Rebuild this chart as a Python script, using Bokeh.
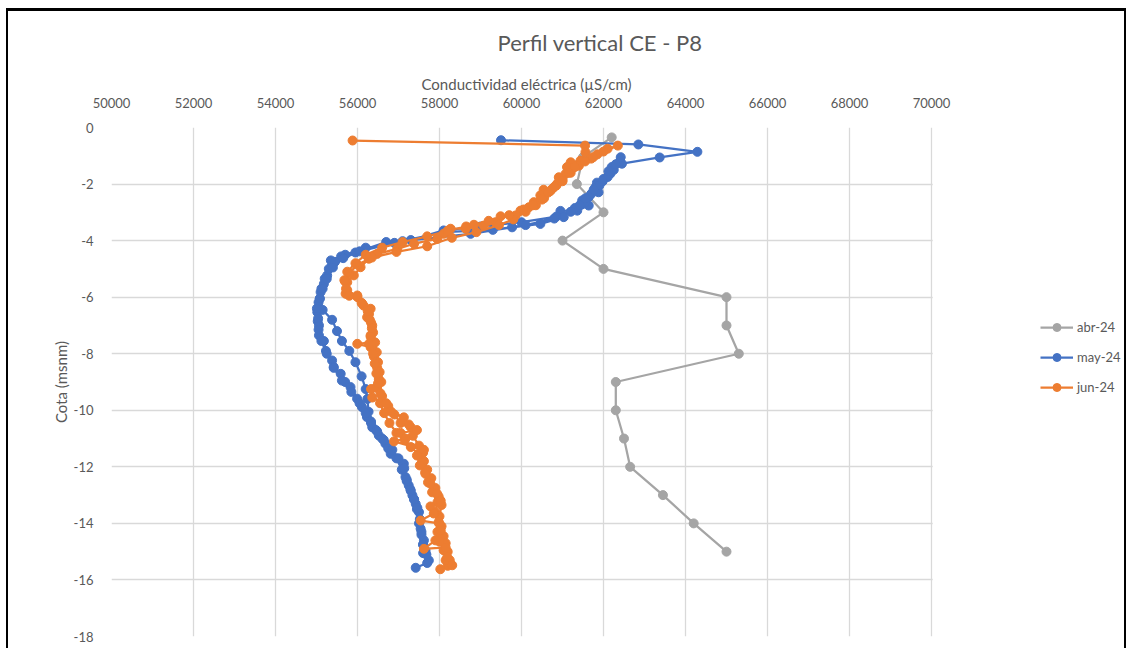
from bokeh.plotting import figure
from bokeh.models import Range1d, Legend, LegendItem, FixedTicker, BoxAnnotation, Title
from bokeh.embed import file_html
from bokeh.resources import INLINE

# ---------------- data ----------------
title_text = "Perfil vertical CE - P8"
x_title = "Conductividad eléctrica (µS/cm)"
y_title = "Cota (msnm)"
series_names = ["abr-24", "may-24", "jun-24"]
x_ticks = [50000, 52000, 54000, 56000, 58000, 60000, 62000, 64000, 66000, 68000, 70000]
y_ticks = [0, -2, -4, -6, -8, -10, -12, -14, -16, -18]

abr_ce = [62200, 61500, 61350, 62000, 61000, 62000, 65000, 65000, 65300,
          62300, 62300, 62500, 62650, 63450, 64200, 65000]
abr_cota = [-0.35, -1.05, -2.0, -3.0, -4.0, -5.0, -6.0, -7.0, -8.0,
            -9.0, -10.0, -11.0, -12.0, -13.0, -14.0, -15.0]

may_ce = [
    59500, 62850, 64290, 63370, 62450, 62200, 62170, 62000, 61840, 61800,
    61880, 61640, 61480, 61640, 61360, 60950, 61030, 60460, 59770, 58760,
    57100, 56700, 55950, 55600, 55350, 55380, 55260, 55180, 55100, 55050,
    55020, 55030, 55060, 55060, 55180, 55230, 55380, 55420, 55590, 55700,
    55830, 55990, 56110, 56230, 56360, 56520, 56680, 56810, 57130, 57170,
    57250, 57340, 57420, 57500, 57540, 57620, 57660, 57740,
    57600, 57600, 57560, 57500, 57450, 57380, 57300, 57200, 57080, 56950,
    56750, 56600, 56450, 56330, 56270, 56240, 56200, 56100, 55950, 55800,
    55620, 55500, 55380, 55150, 55080, 55120, 55200, 55300, 55450, 55700,
    56200, 57300, 58100, 59000, 60000, 60850, 61300, 61550, 61700, 61900,
    62100, 62250, 62400, 62420,
    62300, 62120, 61980, 61760, 61560, 61420, 61200, 60800, 60100, 59300,
    58100, 56900, 56050, 55650, 55400, 55250, 55150, 55080, 55010, 55040,
    55050, 55120, 55250, 55420, 55620, 55850, 56050, 56200, 56330, 56480,
    56640, 56850, 57000, 57140, 57200, 57290, 57380, 57460, 57520, 57560,
    57600, 57680, 57700, 57420]
may_cota = [
    -0.45, -0.60, -0.86, -1.06, -1.28, -1.40, -1.63, -1.82, -1.95, -2.12,
    -2.29, -2.46, -2.58, -2.76, -2.94, -2.95, -3.17, -3.41, -3.53, -3.76,
    -4.02, -4.05, -4.42, -4.56, -4.70, -4.88, -5.23, -5.53, -5.82, -6.18,
    -6.53, -6.85, -7.00, -7.35, -7.55, -7.90, -8.24, -8.47, -8.71, -9.00,
    -9.18, -9.59, -9.89, -10.24, -10.60, -10.89, -11.18, -11.54, -11.89, -12.36,
    -12.66, -13.01, -13.31, -13.60, -14.19, -14.60, -14.96, -15.31,
    -15.05, -14.75, -14.40, -14.00, -13.50, -13.15, -12.85, -12.50, -12.10, -11.70,
    -11.35, -11.00, -10.70, -10.40, -10.05, -9.60, -9.25, -8.80, -8.30, -7.90,
    -7.55, -7.20, -6.80, -6.45, -6.05, -5.70, -5.35, -5.00, -4.75, -4.50,
    -4.25, -3.98, -3.64, -3.50, -3.35, -3.15, -2.85, -2.65, -2.35, -2.05,
    -1.75, -1.50, -1.20, -1.05,
    -1.30, -1.55, -1.90, -2.20, -2.50, -2.75, -2.98, -3.22, -3.45, -3.62,
    -3.70, -4.08, -4.38, -4.62, -4.95, -5.35, -5.70, -6.05, -6.40, -6.75,
    -7.15, -7.55, -8.00, -8.50, -8.95, -9.35, -9.75, -10.10, -10.45, -10.75,
    -11.05, -11.40, -11.70, -12.05, -12.45, -12.80, -13.15, -13.45, -13.85, -14.30,
    -14.75, -15.10, -15.40, -15.57]

jun_ce = [
    55880, 61550, 61560, 61440, 61200, 61110, 61075, 60910, 60870, 60750,
    60540, 60460, 60300, 60180, 59975, 59855, 59490, 59365, 59080, 58840,
    58640, 58270, 58100, 57945, 57380, 56970, 56480, 56275, 56075, 55910,
    55750, 55710, 55995, 56115, 56320, 56235, 56360, 56320, 56400, 55995,
    56320, 56400, 56480, 56520, 56450, 56600, 56750, 56900, 57050, 57300,
    57350, 57500, 57600, 57620, 57700, 57800, 57900, 57980, 58050, 58000,
    58050, 58100, 58150, 58200, 58250, 58200,
    58150, 58100, 58000, 57950, 57980, 57900, 57950, 57820, 57720, 57650,
    57580, 57500, 57300, 57150, 56950, 56780, 56650, 56550, 56560, 56580,
    56540, 56500, 56470, 56430, 56380, 56330, 56280, 56150, 56000, 55750,
    55700, 55800, 56000, 56350, 56950, 57700, 58300, 58900, 59450, 59800,
    60100, 60350, 60550, 60700, 60850, 61000, 61200, 61400, 61700, 61850,
    62100, 62350,
    62000, 61750, 61550, 61300, 61150, 61000, 60800, 60650, 60500, 60280,
    60050, 59700, 59200, 58650, 58200, 57700, 57100, 56600, 56200, 55950,
    55750, 55680, 55720, 55800, 56100, 56250, 56300, 56350, 56320, 56280,
    56380, 56420, 56460, 56500, 56330, 56360, 56700, 56820, 57130, 57250,
    57450, 57050, 57170, 56890, 57620, 57450, 57520, 57660, 57780, 57940,
    58030, 57780, 57860, 57540, 57990, 58030, 57900, 57620, 58150, 58190,
    58310, 58020]
jun_cota = [
    -0.46, -0.64, -0.87, -1.17, -1.23, -1.40, -1.64, -1.76, -1.99, -2.17,
    -2.20, -2.40, -2.64, -2.82, -2.94, -3.11, -3.14, -3.35, -3.47, -3.44,
    -3.58, -3.58, -3.76, -3.94, -4.11, -4.29, -4.47, -4.64, -4.94, -5.23,
    -5.47, -5.88, -5.94, -6.23, -6.41, -6.71, -7.00, -7.35, -7.59, -7.65,
    -7.77, -8.10, -8.50, -8.90, -9.20, -9.50, -9.85, -10.15, -10.45, -10.60,
    -10.90, -11.25, -11.50, -11.80, -12.10, -12.40, -12.75, -13.05, -13.35, -13.75,
    -14.10, -14.45, -14.70, -15.00, -15.30, -15.50,
    -15.30, -14.95, -14.65, -14.30, -13.95, -13.60, -13.25, -12.90, -12.55, -12.20,
    -11.85, -11.55, -11.30, -11.05, -10.80, -10.45, -10.10, -9.75, -9.40, -9.00,
    -8.65, -8.30, -7.95, -7.60, -7.25, -6.90, -6.60, -6.30, -6.00, -5.75,
    -5.45, -5.15, -4.85, -4.60, -4.40, -4.20, -3.90, -3.70, -3.45, -3.25,
    -2.98, -2.75, -2.50, -2.25, -2.05, -1.85, -1.60, -1.35, -1.10, -0.95,
    -0.75, -0.64,
    -0.85, -1.05, -1.20, -1.40, -1.60, -1.90, -2.10, -2.30, -2.55, -2.75,
    -2.90, -3.10, -3.30, -3.50, -3.65, -3.85, -4.05, -4.25, -4.50, -4.80,
    -5.10, -5.40, -5.70, -5.95, -6.20, -6.50, -6.80, -7.10, -7.40, -7.65,
    -8.00, -8.35, -8.70, -9.05, -9.25, -9.55, -9.75, -10.05, -10.25, -10.50,
    -10.70, -10.80, -11.00, -11.10, -11.40, -11.60, -11.95, -12.25, -12.60, -12.95,
    -13.20, -13.40, -13.65, -13.90, -14.00, -14.25, -14.60, -14.90, -14.85, -15.20,
    -15.48, -15.62]

colors = ["#a5a5a5", "#4472c4", "#ed7d31"]
text_color = "#595959"
grid_color = "#d9d9d9"
FONT = "Lato"

# ---------------- layout (pixels) ----------------
W, H = 1120, 640
LEFT, TOP, BOTTOM = 103, 116, 15
PLOT_W = 820                      # pixels spanned by x_ticks[0]..x_ticks[-1]
frame_w = W - LEFT                # frame runs to the right edge; the legend sits in it
x0, x1 = x_ticks[0], x_ticks[-1]
x_end = x0 + (x1 - x0) * frame_w / PLOT_W

p = figure(width=W, height=H,
           x_range=Range1d(x0, x_end), y_range=Range1d(y_ticks[-1], y_ticks[0]),
           x_axis_location="above",
           output_backend="svg", toolbar_location=None,
           min_border_left=LEFT, min_border_top=TOP,
           min_border_right=0, min_border_bottom=BOTTOM)
p.styles = {"border-top": "3px solid black",
            "border-left": "2px solid black",
            "border-right": "2px solid black",
            "margin-left": "6px",
            "margin-top": "8px"}
p.outline_line_color = None
p.background_fill_color = "white"
p.border_fill_color = "white"

p.title.text = title_text
p.title.align = "left"
p.title.offset = 386
p.title.standoff = 30
p.title.text_font = FONT
p.title.text_font_size = "22px"
p.title.text_font_style = "normal"
p.title.text_color = text_color

for g, ticks in ((p.xgrid, x_ticks), (p.ygrid, y_ticks)):
    g.ticker = FixedTicker(ticks=ticks)
    g.grid_line_color = grid_color
    g.grid_line_width = 1.3

for ax, ticks in ((p.xaxis, x_ticks), (p.yaxis, y_ticks)):
    ax.ticker = FixedTicker(ticks=ticks)
    ax.major_label_overrides = {t: str(t) for t in ticks}
    ax.axis_line_color = None
    ax.major_tick_line_color = None
    ax.minor_tick_line_color = None
    ax.major_label_text_font = FONT
    ax.major_label_text_font_size = "13px"
    ax.major_label_text_color = text_color
    ax.axis_label_text_font = FONT
    ax.axis_label_text_font_size = "15px"
    ax.axis_label_text_color = text_color
    ax.axis_label_text_font_style = "normal"

p.xaxis.bounds = (x0, x1)
p.xaxis.major_label_standoff = 14
p.yaxis.axis_label = y_title
p.yaxis.major_label_standoff = 12
p.yaxis.axis_label_standoff = 1

# x-axis title, centred over the 50000-70000 span
p.add_layout(Title(text=x_title, align="left", offset=310, standoff=4,
                   text_font=FONT, text_font_size="15px",
                   text_font_style="normal", text_color=text_color), "above")

# white panel to the right of the plotting area (legend area)
pad = (x1 - x0) / PLOT_W * 1.2
p.add_layout(BoxAnnotation(left=x1 + pad, fill_color="white", fill_alpha=1,
                           line_color=None, level="underlay"))

items = []
for name, xs, ys, c in zip(series_names,
                           [abr_ce, may_ce, jun_ce],
                           [abr_cota, may_cota, jun_cota], colors):
    ln = p.line(xs, ys, line_color=c, line_width=2.25)
    sc = p.scatter(xs, ys, size=9, fill_color=c, line_color=c)
    items.append(LegendItem(label=name, renderers=[ln, sc]))

legend = Legend(items=items, location=(PLOT_W + 109, 239),
                label_text_font=FONT, label_text_font_size="13px",
                label_text_color=text_color,
                glyph_width=33, glyph_height=20, label_height=20,
                label_standoff=4, spacing=10, padding=5, margin=0,
                border_line_color=None, background_fill_alpha=0)
p.add_layout(legend)

open("out.html", "w").write(file_html(p, INLINE))
